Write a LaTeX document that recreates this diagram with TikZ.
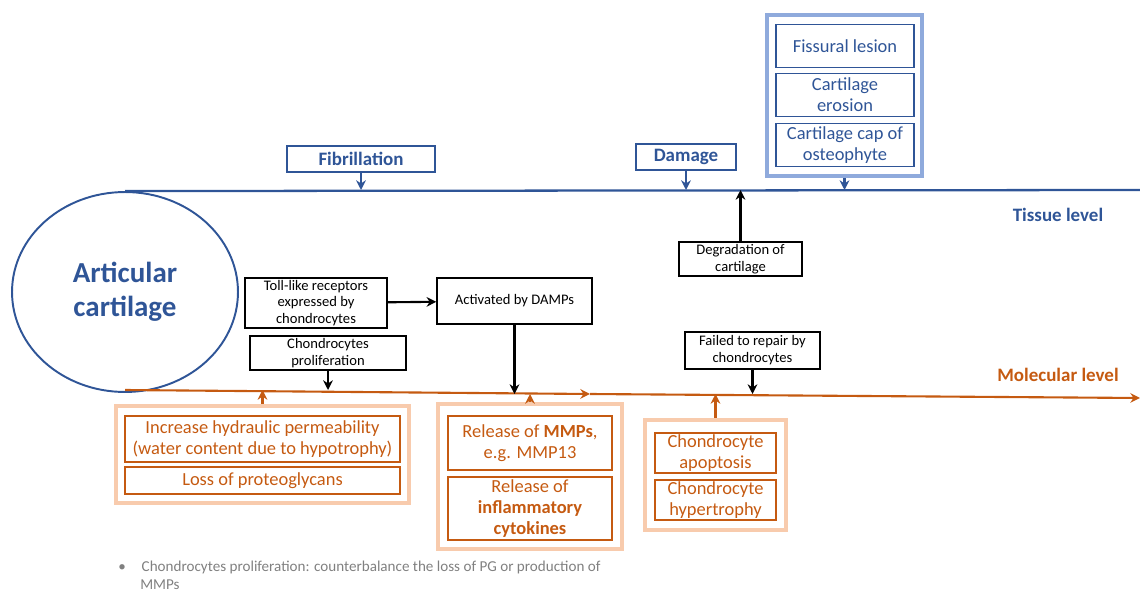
\documentclass[tikz,border=0pt]{standalone}
\usepackage{fontspec}
\setmainfont{Carlito}
\usepackage{xcolor}
\usetikzlibrary{positioning, arrows.meta, shapes.geometric}

\definecolor{tissueblue}{RGB}{47,85,151}
\definecolor{groupblue}{RGB}{143,170,220}
\definecolor{molorange}{RGB}{197,90,17}
\definecolor{grouporange}{RGB}{248,203,173}
\definecolor{notegray}{RGB}{128,128,128}

\begin{document}
\begin{tikzpicture}[
    x=0.02cm, y=-0.02cm,
    tissuebox/.style={
        rectangle,
        draw=tissueblue,
        line width=1pt,
        text=tissueblue,
        align=center,
        inner sep=0pt,
        minimum height=0.52cm,
        font=\fontsize{10.8}{12}\selectfont\bfseries
    },
    lesionbox/.style={
        rectangle,
        draw=tissueblue,
        line width=1pt,
        text=tissueblue,
        align=center,
        inner sep=0pt,
        minimum width=2.76cm,
        minimum height=0.86cm,
        font=\fontsize{10.5}{12}\selectfont
    },
    causebox/.style={
        rectangle,
        draw,
        line width=0.9pt,
        align=center,
        inner sep=0pt,
        font=\fontsize{8.3}{9.6}\selectfont
    },
    molbox/.style={
        rectangle,
        draw=molorange,
        line width=1pt,
        text=molorange,
        align=center,
        inner sep=0pt,
        font=\fontsize{10.5}{12}\selectfont
    },
    bluegroup/.style={
        rectangle,
        draw=groupblue,
        line width=2.6pt,
        inner sep=0pt
    },
    orangegroup/.style={
        rectangle,
        draw=grouporange,
        line width=2.6pt,
        inner sep=0pt
    },
    levellabel/.style={
        font=\fontsize{10.8}{12}\selectfont\bfseries
    },
    arrow/.style={
        line width=1.2pt,
        -{Stealth[length=5.5pt, width=5.5pt]}
    }
]
\useasboundingbox (0,0) rectangle (1140,592);

% Main nodes
\node[ellipse, draw=tissueblue, line width=1.1pt, minimum width=4.52cm, minimum height=4cm,
    inner sep=0pt, align=center, text=tissueblue,
    font=\fontsize{16.5}{19.5}\selectfont\bfseries] (cartilage) at (125,292) {Articular\\cartilage};

\coordinate (tissueend) at (1140,190);
\coordinate (molstart) at (125,390);
\coordinate (molmid) at (590,394);
\coordinate (molend) at (1140,398);

\node[levellabel, text=tissueblue] (tissue) at (1058,215) {Tissue level};
\node[levellabel, text=molorange] (molecular) at (1058,375) {Molecular level};

% Tissue level nodes
\node[tissuebox, minimum width=2.96cm] (fibrillation) at (361,159) {Fibrillation};
\node[tissuebox, minimum width=2.0cm] (damage) at (686,157) {Damage};

\node[bluegroup, minimum width=3.1cm, minimum height=3.22cm] (lesions) at (844.5,95.5) {};
\node[lesionbox] (fissural) at (845,46) {Fissural lesion};
\node[lesionbox] (erosion) at (845,95) {Cartilage\\erosion};
\node[lesionbox] (cap) at (845,145) {Cartilage cap of\\osteophyte};

\node[causebox, minimum width=2.46cm, minimum height=0.68cm] (degradation) at (740.5,259) {Degradation of\\cartilage};

% Cause nodes
\node[causebox, minimum width=2.84cm, minimum height=1.0cm] (toll) at (316,303) {Toll-like receptors\\expressed by\\chondrocytes};
\node[causebox, minimum width=3.1cm, minimum height=0.92cm] (damps) at (514.5,301) {Activated by DAMPs};
\node[causebox, minimum width=3.12cm, minimum height=0.68cm] (proliferation) at (328,353) {Chondrocytes\\proliferation};
\node[causebox, minimum width=2.7cm, minimum height=0.74cm] (repair) at (752.5,350.5) {Failed to repair by\\chondrocytes};

% Molecular level nodes
\node[orangegroup, minimum width=5.86cm, minimum height=1.94cm] (matrix) at (262.5,454.5) {};
\node[molbox, minimum width=5.5cm, minimum height=0.92cm] (permeability) at (262.5,439) {Increase hydraulic permeability\\(water content due to hypotrophy)};
\node[molbox, minimum width=5.5cm, minimum height=0.54cm] (proteoglycans) at (262.5,480.5) {Loss of proteoglycans};

\node[orangegroup, minimum width=3.68cm, minimum height=2.9cm] (release) at (530,476.5) {};
\node[molbox, minimum width=3.28cm, minimum height=1.08cm] (mmps) at (530,443) {Release of \textbf{MMPs},\\e.g. MMP13};
\node[molbox, minimum width=3.28cm, minimum height=1.26cm] (cytokines) at (530,508.5) {Release of\\\textbf{inflammatory}\\\textbf{cytokines}};

\node[orangegroup, minimum width=2.82cm, minimum height=2.2cm] (cells) at (715.5,475) {};
\node[molbox, minimum width=2.42cm, minimum height=0.8cm] (apoptosis) at (715.5,453) {Chondrocyte\\apoptosis};
\node[molbox, minimum width=2.42cm, minimum height=0.8cm] (hypertrophy) at (715.5,500) {Chondrocyte\\hypertrophy};

% Note
\node[anchor=north west, inner sep=0pt, text=notegray, align=left,
    font=\fontsize{8.6}{10}\selectfont] (note) at (118,561)
    {\textbullet\hspace{1.05em}Chondrocytes proliferation: counterbalance the loss of PG or production of\\\hspace{1.45em}MMPs};

% Level lines
\draw[tissueblue, line width=1.3pt] (cartilage.north) -- (tissueend);
\draw[arrow, molorange] (molstart) -- (molmid);
\draw[arrow, molorange] (molmid) -- (molend);

% Arrows
\draw[arrow, tissueblue] (fibrillation) -- (fibrillation.south |- tissueend);
\draw[arrow, tissueblue] (damage) -- (damage.south |- tissueend);
\draw[arrow, tissueblue] (lesions.south) -- (lesions.south |- tissueend);
\draw[arrow] (degradation) -- (degradation.north |- tissueend);

\draw[arrow] (toll) -- (damps);
\draw[arrow] (damps) -- (damps.south |- molmid);
\draw[arrow] (proliferation) -- (proliferation.south |- molstart);
\draw[arrow] (repair) -- (repair.south |- molmid);

\draw[arrow, molorange] (matrix) -- (matrix.north |- molstart);
\draw[arrow, molorange] (release) -- (release.north |- molmid);
\draw[arrow, molorange] (cells) -- (cells.north |- molmid);

\end{tikzpicture}
\end{document}
